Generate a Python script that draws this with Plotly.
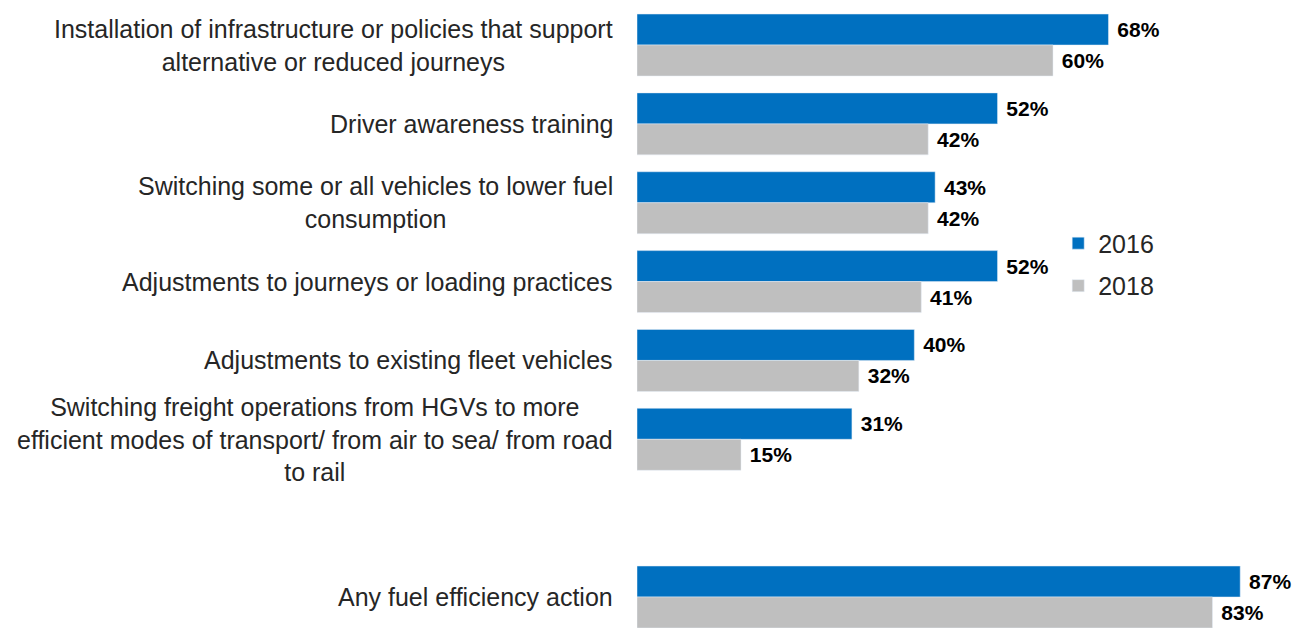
import plotly.graph_objects as go

# categories top to bottom; the blank one is the gap before the total row
categories = [
    "Installation of infrastructure or policies that support<br>alternative or reduced journeys",
    "Driver awareness training",
    "Switching some or all vehicles to lower fuel<br>consumption",
    "Adjustments to journeys or loading practices",
    "Adjustments to existing fleet vehicles",
    "Switching freight operations from HGVs to more<br>efficient modes of transport/ from air to sea/ from road<br>to rail",
    " ",
    "Any fuel efficiency action",
]
values_2016 = [68, 52, 43, 52, 40, 31, None, 87]
values_2018 = [60, 42, 42, 41, 32, 15, None, 83]

fig = go.Figure()

label_font = dict(family="Liberation Sans, Arial", size=21, color="#000000")

# 2016 bars first so they sit on top in each group (y axis reversed)
fig.add_trace(go.Bar(y=categories, x=values_2016, name="2016", orientation="h",
                     marker_color="#0070C0", legendgroup="a",
                     texttemplate="<b>\u00a0%{x}%</b>", textposition="outside",
                     constraintext="none", cliponaxis=False, textfont=label_font))
fig.add_trace(go.Bar(y=categories, x=values_2018, name="2018", orientation="h",
                     marker_color="#BFBFBF", legendgroup="b",
                     texttemplate="<b>\u00a0%{x}%</b>", textposition="outside",
                     constraintext="none", cliponaxis=False, textfont=label_font))

# category labels, centred block, right edge just left of the bars
for cat in categories:
    if cat.strip() == "":
        continue
    fig.add_annotation(x=0, y=cat, xref="paper", yref="y", text=cat,
                       xanchor="right", yanchor="middle", align="center",
                       xshift=-22, showarrow=False,
                       font=dict(family="Liberation Sans, Arial", size=25, color="#262626"))

fig.update_layout(
    width=1303, height=628,
    margin=dict(l=637, r=42, t=0, b=0),
    plot_bgcolor="white", paper_bgcolor="white",
    barmode="group", bargap=0.214, bargroupgap=0,
    font=dict(family="Liberation Sans, Arial", color="#262626"),
    legend=dict(x=0.675, y=0.579, xanchor="left", yanchor="middle",
                traceorder="grouped", tracegroupgap=7,
                font=dict(size=25, color="#262626")),
)
fig.update_xaxes(range=[0, 90], visible=False)
fig.update_yaxes(range=[7.393, -0.571], showticklabels=False, showgrid=False,
                 zeroline=False, showline=False, ticks="")

# drop the default page margin so the chart fills the window
fig.write_html("out.html", config={"displayModeBar": False},
               post_script="document.body.style.margin='0px';")
